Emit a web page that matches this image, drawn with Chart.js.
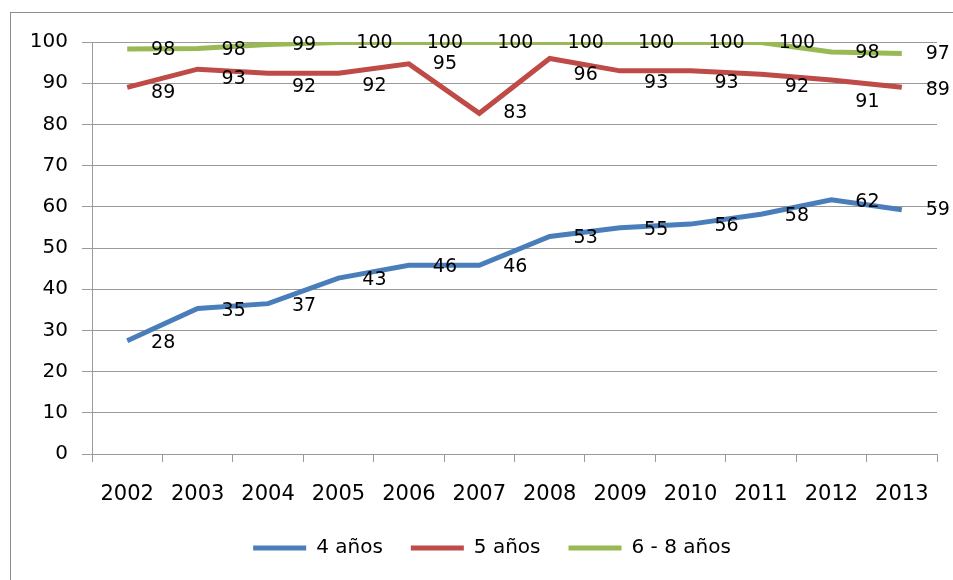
<!DOCTYPE html>
<html>
<head>
<meta charset="utf-8">
<script src="https://cdn.jsdelivr.net/npm/chart.js@4.4.1/dist/chart.umd.min.js"></script>
<style>
  html, body { margin: 0; padding: 0; background: #fff; }
  #wrap { position: relative; width: 953px; height: 580px; overflow: hidden; }
  #frame { position: absolute; left: 10px; top: 12px; width: 960px; height: 600px; border: 1px solid #8c8c8c; box-sizing: border-box; }
  #myChart { position: absolute; left: 0; top: 0; }
</style>
</head>
<body>
<div id="wrap">
  <div id="frame"></div>
  <canvas id="myChart" width="953" height="580"></canvas>
</div>
<script>
// categorías (años)
var years = ['2002', '2003', '2004', '2005', '2006', '2007', '2008', '2009', '2010', '2011', '2012', '2013'];

// valores
var cuatroAnos = [27.5, 35.3, 36.5, 42.7, 45.8, 45.8, 52.8, 54.9, 55.8, 58.2, 61.7, 59.3];
var cincoAnos  = [89.0, 93.4, 92.4, 92.4, 94.7, 82.7, 96.0, 93.0, 93.0, 92.2, 90.8, 89.0];
var seisOcho   = [98.3, 98.4, 99.4, 99.9, 99.9, 99.9, 99.9, 99.9, 99.9, 99.9, 97.6, 97.2];

var seriesNames = ['4 años', '5 años', '6 - 8 años'];
var yTicks = [0, 10, 20, 30, 40, 50, 60, 70, 80, 90, 100];

var FONT = 'DejaVu Sans';

// etiquetas de datos a la derecha de cada punto
var dataLabels = {
    id: 'dataLabels',
    afterDatasetsDraw: function (chart, args, opts) {
        var ctx = chart.ctx;
        ctx.save();
        ctx.font = opts.size + 'px ' + FONT;
        ctx.fillStyle = '#000';
        ctx.textAlign = 'center';
        ctx.textBaseline = 'middle';
        chart.data.datasets.forEach(function (ds, i) {
            var meta = chart.getDatasetMeta(i);
            meta.data.forEach(function (pt, j) {
                var dy = opts.dy[i][j];
                ctx.fillText(Math.round(ds.data[j]), pt.x + opts.dx, pt.y + dy);
            });
        });
        ctx.restore();
    }
};

// la leyenda va un poco desplazada a la derecha (como en Excel)
var legendShift = {
    id: 'legendShift',
    afterLayout: function (chart) {
        if (chart.legend) {
            chart.legend.left += 47;
        }
    }
};

var ctx = document.getElementById('myChart');

if (ctx) {
    var myChart = new Chart(ctx, {
        type: 'line',
        data: {
            labels: years,
            datasets: [{
                label: seriesNames[0],
                data: cuatroAnos,
                borderColor: '#4A7EBB',
                backgroundColor: '#4A7EBB',
                borderWidth: 5
            }, {
                label: seriesNames[1],
                data: cincoAnos,
                borderColor: '#BE4B48',
                backgroundColor: '#BE4B48',
                borderWidth: 5
            }, {
                label: seriesNames[2],
                data: seisOcho,
                borderColor: '#98B954',
                backgroundColor: '#98B954',
                borderWidth: 5
            }]
        },
        options: {
            responsive: false,
            animation: false,
            elements: {
                line: { tension: 0, borderCapStyle: 'butt' },
                point: { radius: 0, hoverRadius: 0, pointStyle: 'line' }
            },
            layout: { padding: { top: 42, right: 16, bottom: 12, left: 0 } },
            scales: {
                y: {
                    min: 0,
                    max: 100,
                    afterFit: function (scale) { scale.width = 92; },
                    afterBuildTicks: function (scale) {
                        scale.ticks = yTicks.map(function (v) { return { value: v }; });
                    },
                    ticks: {
                        color: '#000',
                        padding: 14,
                        font: { family: FONT, size: 20 }
                    },
                    grid: { color: '#9a9a9a', lineWidth: 1, tickLength: 10 },
                    border: { color: '#9a9a9a' }
                },
                x: {
                    offset: true,
                    afterFit: function (scale) { scale.height = 56; },
                    ticks: {
                        color: '#000',
                        padding: 20,
                        maxRotation: 0,
                        autoSkip: false,
                        font: { family: FONT, size: 21 }
                    },
                    grid: { offset: true, drawOnChartArea: false, color: '#9a9a9a', tickLength: 8 },
                    border: { color: '#9a9a9a' }
                }
            },
            plugins: {
                legend: {
                    position: 'bottom',
                    onClick: function () {},
                    labels: {
                        color: '#000',
                        usePointStyle: true,
                        pointStyle: 'line',
                        pointStyleWidth: 53,
                        padding: 28,
                        font: { family: FONT, size: 20 }
                    }
                },
                tooltip: { enabled: false },
                dataLabels: {
                    size: 19,
                    dx: 36,
                    dy: [
                        [2, 2, 2, 2, 2, 2, 2, 2, 2, 2, 2, 0],
                        [6, 10, 14, 13, 0, 0, 17, 12, 12, 13, 22, 3],
                        [1, 1, 1, 1, 1, 1, 1, 1, 1, 1, 1, 1]
                    ]
                }
            }
        },
        plugins: [dataLabels, legendShift]
    });
} else {
    console.error("Canvas 'myChart' not found.");
}
</script>
</body>
</html>
